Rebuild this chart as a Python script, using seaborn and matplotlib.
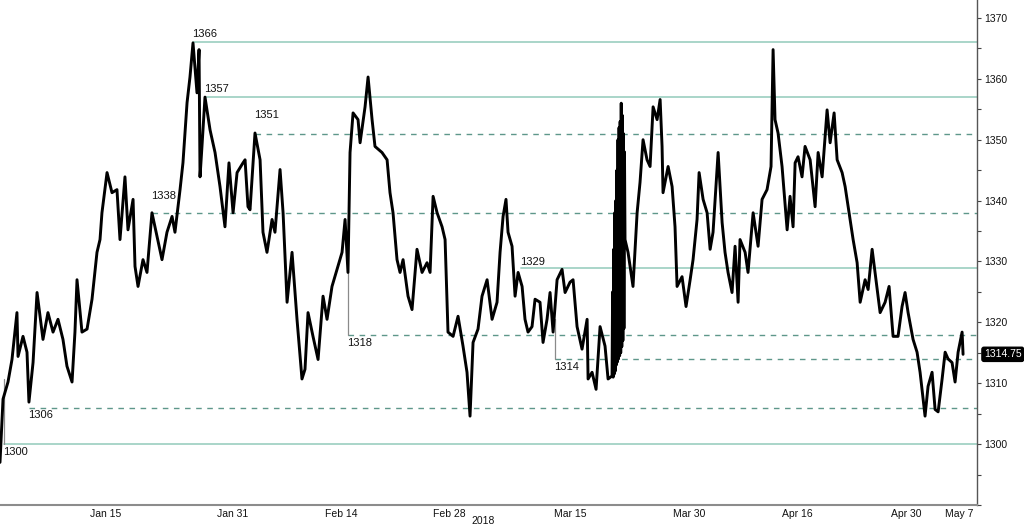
import matplotlib
matplotlib.use("Agg")
import matplotlib.pyplot as plt
import seaborn as sns
import numpy as np
import pandas as pd

# ---------------- data (trading-day index, Jan 2 2018 = 0) ----------------
t = [-0.74, -0.46, 0.0, 0.37, 0.83, 0.93, 1.39, 1.76, 1.94, 2.32, 2.69, 3.24, 3.70, 4.17, 4.63, 5.09,
     5.46, 5.93, 6.20, 6.39, 6.85, 7.32, 7.78, 8.24, 8.52, 8.70, 9.17, 9.63, 10.09, 10.37, 10.83, 11.11,
     11.58, 11.76, 12.04, 12.50, 12.87, 13.33, 13.80, 14.26, 14.72, 15.19, 15.46, 15.93, 16.20, 16.58,
     16.85, 17.13, 17.50, 17.69, 17.78, 17.96, 18.24, 18.71, 19.17, 19.63, 20.09, 20.46, 20.84, 21.21,
     21.76, 21.95, 22.22, 22.41, 22.87, 23.34, 23.61, 23.98, 24.45, 24.72, 25.19, 25.47, 25.84, 26.30,
     26.76, 27.22, 27.50, 27.78, 28.24, 28.71, 29.17, 29.54, 30.00, 30.47, 30.93, 31.21, 31.48, 31.67,
     31.95, 32.41, 32.60, 33.06, 33.34, 33.71, 33.98, 34.63, 35.10, 35.37, 35.65, 36.02, 36.30, 36.58,
     37.04, 37.41, 37.87, 38.34, 38.80, 39.08, 39.36, 39.73, 40.19, 40.47, 40.74, 41.21, 41.67, 42.13,
     42.50, 42.78, 43.06, 43.52, 43.89, 44.36, 44.82, 45.28, 45.56, 45.84, 46.11, 46.30, 46.67, 46.95,
     47.23, 47.60, 47.87, 48.15, 48.52, 48.80, 49.26, 49.54, 49.91, 50.19, 50.47, 50.84, 51.30, 51.58,
     52.04, 52.32, 52.69, 53.15, 53.62, 53.71, 54.08, 54.45, 54.82, 55.28, 55.56, 55.93,
     55.98, 56.03, 56.08, 56.13, 56.18, 56.23, 56.28, 56.33, 56.38, 56.43, 56.48, 56.53, 56.58, 56.63,
     56.68, 56.73, 56.78, 56.83, 56.88, 56.93, 56.98, 57.03, 57.08, 57.13,
     57.41, 57.87, 58.25, 58.52, 58.80, 59.17, 59.45, 59.73, 60.10, 60.38, 60.56, 60.65, 61.12, 61.49,
     61.76, 61.95, 62.41, 62.78, 63.16, 63.43, 63.80, 63.99, 64.36, 64.73, 65.01, 65.28, 65.75, 66.12,
     66.39, 66.67, 67.04, 67.32, 67.60, 67.78, 68.25, 68.52, 68.99, 69.45, 69.82, 70.28, 70.65, 70.84,
     71.02, 71.30, 71.67, 72.14, 72.41, 72.69, 72.88, 73.15, 73.52, 73.80, 74.27, 74.73, 75.01, 75.38,
     75.84, 76.12, 76.49, 76.77, 77.23, 77.51, 77.97, 78.25, 78.62, 78.90, 79.36, 79.64, 80.01, 80.28,
     80.75, 81.21, 81.58, 81.95, 82.41, 82.78, 83.06, 83.34, 83.80, 84.17, 84.45, 84.91, 85.19, 85.56,
     85.84, 86.12, 86.49, 86.77, 87.04, 87.41, 87.69, 87.97, 88.34, 88.43]
price = [1297.0, 1307.4, 1310.2, 1313.9, 1321.6, 1314.4, 1317.7, 1315.1, 1306.9, 1313.4, 1324.9, 1317.2,
         1321.6, 1318.4, 1320.5, 1317.2, 1312.8, 1310.2, 1318.4, 1327.0, 1318.4, 1318.9, 1323.8, 1331.5,
         1333.6, 1338.0, 1344.6, 1341.3, 1341.8, 1333.6, 1343.9, 1335.2, 1340.2, 1329.2, 1325.9, 1330.3,
         1328.2, 1338.0, 1334.1, 1330.3, 1334.8, 1337.4, 1334.8, 1341.8, 1346.2, 1356.1, 1360.3, 1365.9,
         1357.7, 1364.8, 1343.9, 1348.9, 1357.0, 1351.6, 1347.9, 1342.3, 1335.7, 1346.2, 1338.0, 1344.6,
         1346.2, 1346.7, 1339.0, 1338.5, 1351.1, 1346.7, 1334.8, 1331.5, 1336.9, 1334.8, 1345.1, 1338.0,
         1323.3, 1331.5, 1320.5, 1310.7, 1312.3, 1321.6, 1317.7, 1313.9, 1324.3, 1320.5, 1325.9, 1328.7,
         1331.5, 1336.9, 1328.2, 1347.9, 1354.4, 1353.3, 1349.5, 1355.4, 1360.3, 1353.3, 1348.9, 1347.9,
         1346.7, 1341.3, 1338.0, 1330.3, 1328.2, 1330.3, 1324.3, 1322.1, 1332.0, 1328.2, 1329.8, 1328.2,
         1340.7, 1338.0, 1335.7, 1333.6, 1318.4, 1317.7, 1321.0, 1316.1, 1311.8, 1304.6, 1316.7, 1318.9,
         1324.3, 1327.0, 1320.5, 1323.3, 1331.5, 1337.4, 1340.2, 1334.8, 1332.5, 1324.3, 1328.2, 1325.9,
         1320.5, 1318.4, 1319.3, 1323.8, 1323.3, 1316.7, 1320.5, 1324.9, 1318.4, 1327.0, 1328.7, 1324.9,
         1326.6, 1327.0, 1319.3, 1315.6, 1320.5, 1310.7, 1311.8, 1309.0, 1319.3, 1316.1, 1310.7, 1311.2,
         1325.0, 1311.0, 1332.0, 1311.5, 1338.0, 1312.0, 1340.0, 1313.0, 1345.0, 1313.5, 1350.0, 1314.0,
         1352.0, 1314.5, 1353.0, 1315.0, 1356.0, 1316.0, 1354.0, 1317.0, 1351.0, 1319.0, 1348.0, 1333.6,
         1331.5, 1325.9, 1338.0, 1343.0, 1350.0, 1346.7, 1345.6, 1355.4, 1353.3, 1356.6, 1348.9, 1341.3,
         1345.6, 1342.3, 1335.7, 1325.9, 1327.5, 1322.6, 1327.0, 1330.3, 1336.9, 1344.6, 1340.2, 1338.0,
         1332.0, 1334.8, 1347.9, 1336.4, 1331.5, 1328.2, 1324.9, 1332.5, 1323.3, 1333.6, 1331.5, 1328.2,
         1338.0, 1332.5, 1340.2, 1341.8, 1345.6, 1364.8, 1353.3, 1351.1, 1345.6, 1335.2, 1340.7, 1335.7,
         1346.2, 1347.2, 1343.9, 1348.9, 1346.7, 1339.0, 1347.9, 1343.9, 1354.9, 1349.5, 1354.4, 1346.7,
         1344.6, 1342.3, 1336.9, 1333.6, 1329.8, 1323.3, 1327.0, 1325.4, 1332.0, 1328.2, 1321.6, 1323.3,
         1325.9, 1317.7, 1317.7, 1322.6, 1324.9, 1321.6, 1317.2, 1315.1, 1311.8, 1304.6, 1309.5, 1311.8,
         1305.7, 1305.3, 1310.7, 1315.1, 1314.0, 1313.4, 1310.2, 1315.1, 1318.4, 1314.75]

# support / resistance levels
level_values = [1366, 1357, 1351, 1338, 1329, 1318, 1314, 1306, 1300]
level_start = [17.13, 18.24, 22.87, 13.33, 47.50, 31.48, 50.65, 1.94, -0.37]
level_dashed = [False, False, True, True, False, True, True, True, False]
level_above = [True, True, True, True, True, False, False, False, False]
level_gap_px = [3, 3, 14, 12, 1, 2, 2, 1, 2]
# thin connectors from price to level (t, from-price)
conn_t = [31.48, 50.65, -0.37]
conn_from = [1328.2, 1320.5, 1310.7]
conn_to = [1318, 1314, 1300]

major_ticks = [9.0, 20.84, 30.84, 40.84, 52.04, 63.06, 73.06, 83.15, 88.06]
major_labels = ["Jan 15", "Jan 31", "Feb 14", "Feb 28", "Mar 15", "Mar 30", "Apr 16", "Apr 30", "May 7"]
minor_ticks = [3.8, 14.8, 25.8, 35.9, 47.1, 58.1, 68.2, 78.2]
year_label = "2018"
last_value = 1314.75

# ---------------- figure ----------------
sns.set_style("white")
plt.rcParams["font.family"] = ["Liberation Sans", "DejaVu Sans"]

fig = plt.figure(figsize=(10.24, 5.28), dpi=100)
ax = fig.add_axes([0.0, 1 - 505 / 528, 977 / 1024, 505 / 528])

solid_c = "#a3d2c5"
dash_c = "#5e978a"

for v, s, d, above, gap in zip(level_values, level_start, level_dashed, level_above, level_gap_px):
    if d:
        ax.plot([s, 89.72], [v, v], color=dash_c, lw=1.0, ls=(0, (4, 4)), zorder=1)
    else:
        ax.plot([s, 89.72], [v, v], color=solid_c, lw=1.3, zorder=1)
    ax.annotate(str(v), (s, v), xytext=(-1, gap if above else -gap - 1),
                textcoords="offset pixels", ha="left",
                va="bottom" if above else "top", fontsize=8, color="#111111", zorder=4)

for ct, a, b in zip(conn_t, conn_from, conn_to):
    ax.plot([ct, ct], [a, b], color="#8a8a8a", lw=0.9, zorder=1)

df = pd.DataFrame({"t": t, "price": price})
sns.lineplot(data=df, x="t", y="price", ax=ax, color="black", lw=2.1,
             estimator=None, sort=False, zorder=3)

ax.set_xlim(-0.74, 89.72)
ax.set_ylim(1290.16, 1372.95)
ax.set_xlabel("")
ax.set_ylabel("")

ax.set_xticks(major_ticks)
ax.set_xticklabels(major_labels)
ax.set_xticks(minor_ticks, minor=True)
ax.yaxis.tick_right()
ax.set_yticks(np.arange(1300, 1371, 10))
ax.set_yticks(np.arange(1290, 1371, 5), minor=True)
ax.tick_params(axis="x", which="both", length=3, width=0.8, color="#666666",
               labelsize=7.5, pad=0, labelcolor="#111111")
ax.tick_params(axis="y", which="both", length=3, width=0.8, color="#444444",
               labelsize=7.5, pad=2, labelcolor="#111111")

for sp in ["left", "top"]:
    ax.spines[sp].set_visible(False)
ax.spines["bottom"].set_color("#8c8c8c")
ax.spines["bottom"].set_linewidth(1.5)
ax.spines["right"].set_color("#555555")
ax.spines["right"].set_linewidth(1.0)

ax.annotate(f"{last_value:.2f}", (1, last_value), xycoords=("axes fraction", "data"),
            xytext=(7, 0), textcoords="offset pixels", ha="left", va="center",
            fontsize=7.5, color="white",
            bbox=dict(boxstyle="round,pad=0.2", fc="black", ec="black"), zorder=5,
            annotation_clip=False)

fig.text(483 / 1024, 1 - 521 / 528, year_label, ha="center", va="center", fontsize=7.5,
         color="#111111")

fig.savefig("out.png", dpi=100)
